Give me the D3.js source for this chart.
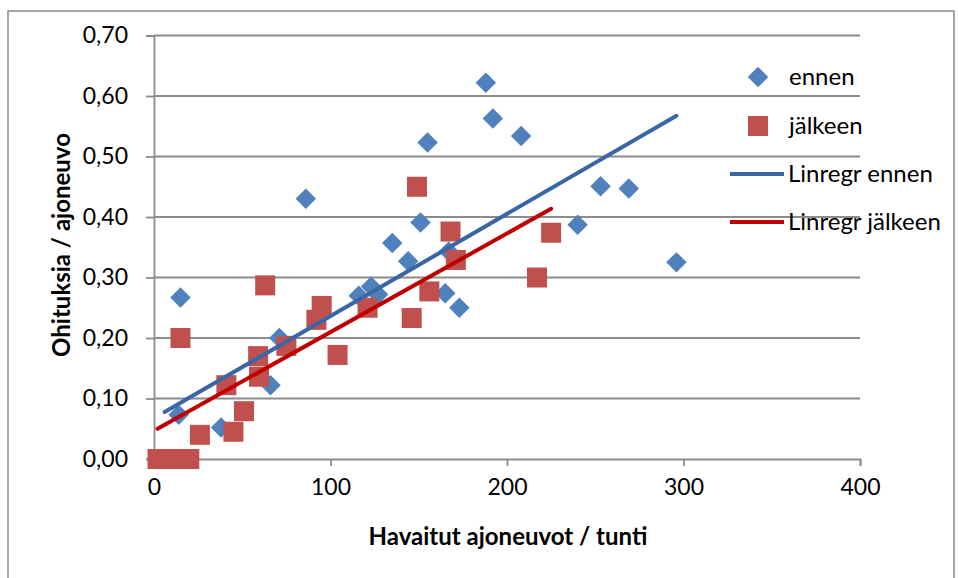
<!DOCTYPE html>
<html><head><meta charset="utf-8">
<script src="https://cdn.jsdelivr.net/npm/d3@7"></script>
<style>body{margin:0;background:#fff}svg{display:block}text{font-family:Lato,"Open Sans",sans-serif}</style>
</head><body><svg id="c" width="958" height="578"></svg>
<script>
// Data
const ennenX = [6, 15, 14, 38, 66, 71, 86, 116, 123, 127, 135, 144, 151, 155, 165, 167, 173, 188, 192, 208, 240, 253, 269, 296];
const ennenY = [0.000, 0.267, 0.073, 0.052, 0.122, 0.200, 0.430, 0.270, 0.285, 0.272, 0.357, 0.327, 0.391, 0.523, 0.274, 0.343, 0.250, 0.622, 0.563, 0.534, 0.387, 0.451, 0.447, 0.325];
const jalkeenX = [2, 8, 14, 20, 15, 26, 41, 45, 51, 59, 59.5, 63, 75, 92, 95, 104, 121, 146, 149, 156, 168, 171, 217, 225];
const jalkeenY = [0, 0, 0, 0, 0.200, 0.040, 0.122, 0.045, 0.079, 0.170, 0.136, 0.287, 0.187, 0.230, 0.253, 0.172, 0.250, 0.233, 0.450, 0.277, 0.376, 0.329, 0.300, 0.374];
// trendline coefficients [slope, intercept]
const trendEnnen = [0.001689, 0.0674];
const trendJalkeen = [0.001631, 0.0466];
const xTicks = [0, 100, 200, 300, 400];
const yTicks = [0, 0.1, 0.2, 0.3, 0.4, 0.5, 0.6, 0.7];
const seriesNames = ["ennen", "jälkeen", "Linregr ennen", "Linregr jälkeen"];
const xTitle = "Havaitut ajoneuvot / tunti";
const yTitle = "Ohituksia / ajoneuvo";

const svg = d3.select("#c");
const blue = "#4f81bd", red = "#c0504d", blueLine = "#3a66a3", redLine = "#c00000", grid = "#8c8c8c";
const fmt = d => d3.format(".2f")(d).replace(".", ",");

svg.append("rect").attr("x", 8).attr("y", 11).attr("width", 946).attr("height", 600)
  .attr("fill", "#fff").attr("stroke", "#8a8a8a").attr("stroke-width", 1.5);

const x = d3.scaleLinear().domain([0, 400]).range([154, 860]);
const y = d3.scaleLinear().domain([0, 0.7]).range([459, 35.5]);

// gridlines
svg.append("g").selectAll("line").data(yTicks.slice(1)).join("line")
  .attr("x1", x(0)).attr("x2", x(400)).attr("y1", d => y(d)).attr("y2", d => y(d))
  .attr("stroke", grid).attr("stroke-width", 1.8);

// axes
const yAxis = svg.append("g").attr("transform", `translate(${x(0)},0)`)
  .call(d3.axisLeft(y).tickValues(yTicks).tickFormat(fmt).tickSize(8).tickPadding(18));
const xAxis = svg.append("g").attr("transform", `translate(0,${y(0)})`)
  .call(d3.axisBottom(x).tickValues(xTicks).tickFormat(d3.format("d")).tickSize(7).tickPadding(13));
[yAxis, xAxis].forEach(g => {
  g.select(".domain").attr("stroke", grid).attr("stroke-width", 1.8);
  g.selectAll(".tick line").attr("stroke", grid).attr("stroke-width", 1.8);
  g.selectAll(".tick text").attr("fill", "#000").style("font-size", "23px").style("font-family", "Lato,'Open Sans',sans-serif");
});

// points
const ennen = ennenX.map((v, i) => ({x: v, y: ennenY[i]}));
const jalkeen = jalkeenX.map((v, i) => ({x: v, y: jalkeenY[i]}));
const diamond = d3.symbol().type(d3.symbolSquare).size(210);
svg.append("g").selectAll("path").data(ennen).join("path")
  .attr("d", diamond).attr("transform", d => `translate(${x(d.x)},${y(d.y)}) rotate(45)`)
  .attr("fill", blue);
svg.append("g").selectAll("rect").data(jalkeen).join("rect")
  .attr("x", d => x(d.x) - 10).attr("y", d => y(d.y) - 10).attr("width", 20).attr("height", 20)
  .attr("fill", red);

// trendlines
function trend(xs, c) {
  const ext = d3.extent(xs);
  return ext.map(v => [x(v), y(c[0] * v + c[1])]);
}
const line = d3.line();
svg.append("path").attr("d", line(trend(ennenX, trendEnnen))).attr("stroke", blueLine).attr("stroke-width", 4).attr("stroke-linecap", "round").attr("fill", "none");
svg.append("path").attr("d", line(trend(jalkeenX, trendJalkeen))).attr("stroke", redLine).attr("stroke-width", 4).attr("stroke-linecap", "round").attr("fill", "none");

// titles
svg.append("text").attr("x", 508).attr("y", 545).attr("text-anchor", "middle")
  .style("font-size", "24px").style("font-weight", "bold").text(xTitle);
svg.append("text").attr("transform", "translate(70,245) rotate(-90)").attr("text-anchor", "middle")
  .style("font-size", "24px").style("font-weight", "bold").text(yTitle);

// legend
const leg = svg.append("g");
const ly = [77, 126, 174, 222];
leg.append("path").attr("d", diamond).attr("transform", `translate(758,${ly[0]}) rotate(45)`).attr("fill", blue);
leg.append("rect").attr("x", 748).attr("y", ly[1] - 10).attr("width", 20).attr("height", 20).attr("fill", red);
leg.append("line").attr("x1", 730).attr("x2", 784).attr("y1", ly[2]).attr("y2", ly[2]).attr("stroke", blueLine).attr("stroke-width", 4);
leg.append("line").attr("x1", 730).attr("x2", 784).attr("y1", ly[3]).attr("y2", ly[3]).attr("stroke", redLine).attr("stroke-width", 4);
leg.selectAll("text").data(seriesNames).join("text")
  .attr("x", (d, i) => i < 2 ? 789 : 788).attr("y", (d, i) => ly[i]).attr("dy", "0.35em")
  .style("font-size", "24px").attr("fill", "#000").text(d => d);
</script></body></html>
